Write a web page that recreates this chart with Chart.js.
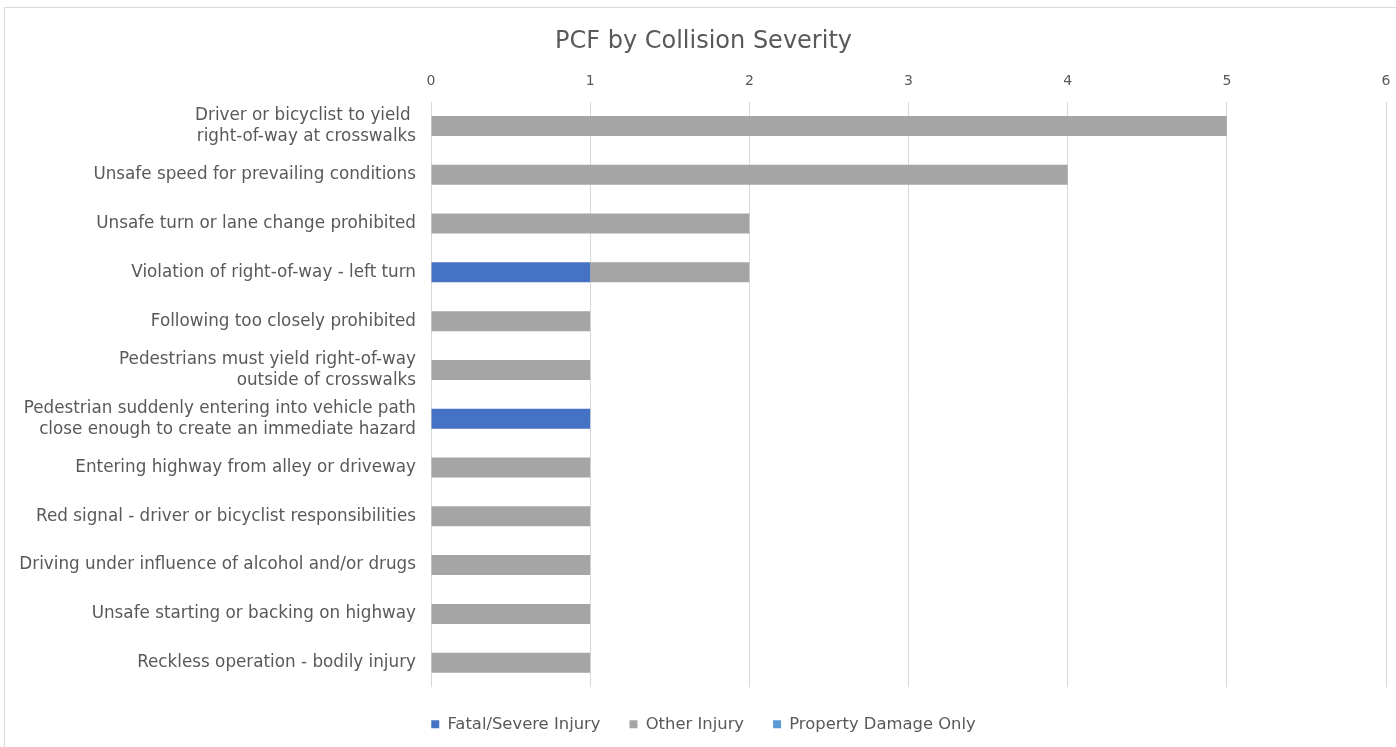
<!DOCTYPE html>
<html>
<head>
<meta charset="utf-8">
<script src="https://cdn.jsdelivr.net/npm/chart.js@4/dist/chart.umd.min.js"></script>
<style>
  html, body { margin: 0; background: #fff; overflow: hidden; }
  #frame { position: absolute; left: 4px; top: 7px; width: 1400px; height: 760px; border: 1px solid #d9d9d9; }
  #wrap { position: absolute; left: 0; top: 0; width: 1396px; height: 747px; }
</style>
</head>
<body>
<div id="frame"></div>
<div id="wrap"><canvas id="myChart"></canvas></div>
<script>
// causes, top to bottom
const causes = [
  ['Driver or bicyclist to yield ', 'right-of-way at crosswalks'],
  'Unsafe speed for prevailing conditions',
  'Unsafe turn or lane change prohibited',
  'Violation of right-of-way - left turn',
  'Following too closely prohibited',
  ['Pedestrians must yield right-of-way', 'outside of crosswalks'],
  ['Pedestrian suddenly entering into vehicle path', 'close enough to create an immediate hazard'],
  'Entering highway from alley or driveway',
  'Red signal - driver or bicyclist responsibilities',
  'Driving under influence of alcohol and/or drugs',
  'Unsafe starting or backing on highway',
  'Reckless operation - bodily injury'
];
const fatalSevere = [0, 0, 0, 1, 0, 0, 1, 0, 0, 0, 0, 0];
const otherInjury = [5, 4, 2, 1, 1, 1, 0, 1, 1, 1, 1, 1];
const propertyDamage = [0, 0, 0, 0, 0, 0, 0, 0, 0, 0, 0, 0];
const xTicks = [0, 1, 2, 3, 4, 5, 6];

const FONT = 'DejaVu Sans';
const TXT = '#595959';
const PAD_LEFT = 14;

new Chart(document.getElementById('myChart').getContext('2d'), {
  type: 'bar',
  data: {
    labels: causes,
    datasets: [
      { label: 'Fatal/Severe Injury', data: fatalSevere, backgroundColor: '#4472C4' },
      { label: 'Other Injury', data: otherInjury, backgroundColor: '#A5A5A5' },
      { label: 'Property Damage Only', data: propertyDamage, backgroundColor: '#5B9BD5' }
    ]
  },
  options: {
    indexAxis: 'y',
    responsive: true,
    maintainAspectRatio: false,
    animation: false,
    layout: { padding: { top: 0, right: 3, bottom: 4.5, left: PAD_LEFT } },
    datasets: { bar: { categoryPercentage: 1, barPercentage: 0.41 } },
    scales: {
      x: {
        position: 'top',
        stacked: true,
        min: 0,
        max: 6,
        afterBuildTicks: s => { s.ticks = xTicks.map(v => ({ value: v })); },
        afterFit: s => { s.paddingRight = 10; s.paddingLeft = 0; },
        grid: { color: '#d9d9d9', drawTicks: false },
        border: { display: false },
        ticks: { color: TXT, padding: 12, font: { family: FONT, size: 14 } }
      },
      y: {
        stacked: true,
        grid: { display: false, drawTicks: false },
        border: { display: false },
        ticks: { color: TXT, padding: 15, font: { family: FONT, size: 16.8, lineHeight: 1.25 } },
        afterFit: s => { s.width = 431 - PAD_LEFT; }
      }
    },
    plugins: {
      title: {
        display: true,
        text: 'PCF by Collision Severity',
        color: TXT,
        font: { family: FONT, size: 24, weight: 'normal' },
        padding: { top: 27, bottom: 5 }
      },
      legend: {
        position: 'bottom',
        labels: {
          color: TXT,
          font: { family: FONT, size: 16.4 },
          boxWidth: 8,
          boxHeight: 8,
          padding: 29
        }
      },
      tooltip: { enabled: false }
    }
  }
});
</script>
</body>
</html>
